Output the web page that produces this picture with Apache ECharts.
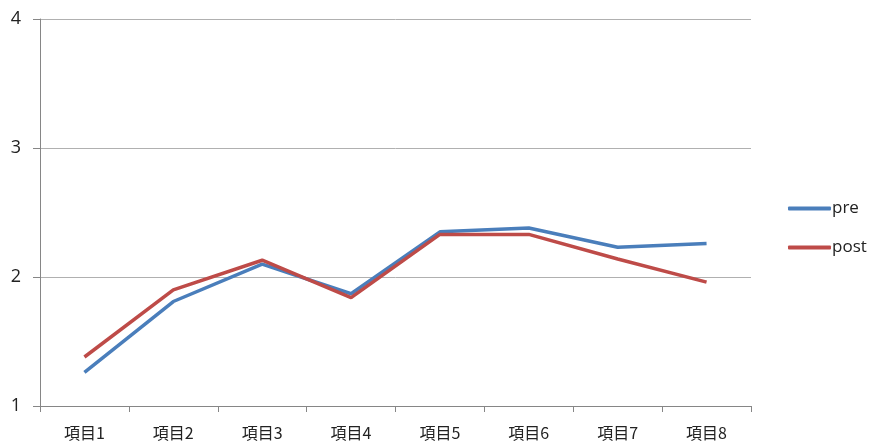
<!DOCTYPE html>
<html><head><meta charset="utf-8">
<script src="https://cdn.jsdelivr.net/npm/echarts@6/dist/echarts.min.js"></script>
<style>html,body{margin:0;padding:0;background:#fff}#c{width:870px;height:448px}</style>
</head><body><div id="c"></div>
<script>
const categories = ['項目1','項目2','項目3','項目4','項目5','項目6','項目7','項目8'];
const preValues  = [1.26, 1.81, 2.10, 1.87, 2.35, 2.38, 2.23, 2.26];
const postValues = [1.38, 1.90, 2.13, 1.84, 2.33, 2.33, 2.14, 1.96];
const yTicks = [1, 2, 3, 4];

const chart = echarts.init(document.getElementById('c'));
chart.setOption({
  animation: false,
  backgroundColor: '#ffffff',
  grid: { left: 40, right: 119, top: 19, bottom: 42, containLabel: false },
  legend: {
    orient: 'vertical', left: 783, top: 195,
    icon: 'roundRect',
    itemWidth: 43, itemHeight: 4, itemGap: 22,
    textStyle: { fontFamily: 'Open Sans, Noto Sans', fontSize: 17, color: '#222', padding: [0, 0, 0, -4] },
    data: ['pre', 'post']
  },
  xAxis: {
    type: 'category', data: categories, boundaryGap: true,
    axisLine: { lineStyle: { color: '#868686', width: 1 } },
    axisTick: { show: true, length: 6, lineStyle: { color: '#868686' } },
    axisLabel: { fontFamily: 'Noto Sans CJK JP', fontSize: 16, color: '#222', margin: 19 },
    splitLine: { show: false }
  },
  yAxis: {
    type: 'value', min: yTicks[0], max: yTicks[yTicks.length - 1], interval: 1,
    axisLine: { show: true, lineStyle: { color: '#868686', width: 1 } },
    axisTick: { show: true, length: 7, lineStyle: { color: '#868686' } },
    axisLabel: { fontFamily: 'Open Sans, Noto Sans', fontSize: 18, color: '#222', margin: 19 },
    splitLine: { show: true, lineStyle: { color: '#b0b0b0', width: 1 } }
  },
  series: [
    { name: 'pre', type: 'line', data: preValues, symbol: 'none',
      lineStyle: { color: '#4A7EBB', width: 3.5 }, itemStyle: { color: '#4A7EBB' } },
    { name: 'post', type: 'line', data: postValues, symbol: 'none',
      lineStyle: { color: '#BE4B48', width: 3.5 }, itemStyle: { color: '#BE4B48' } }
  ]
});
</script></body></html>
